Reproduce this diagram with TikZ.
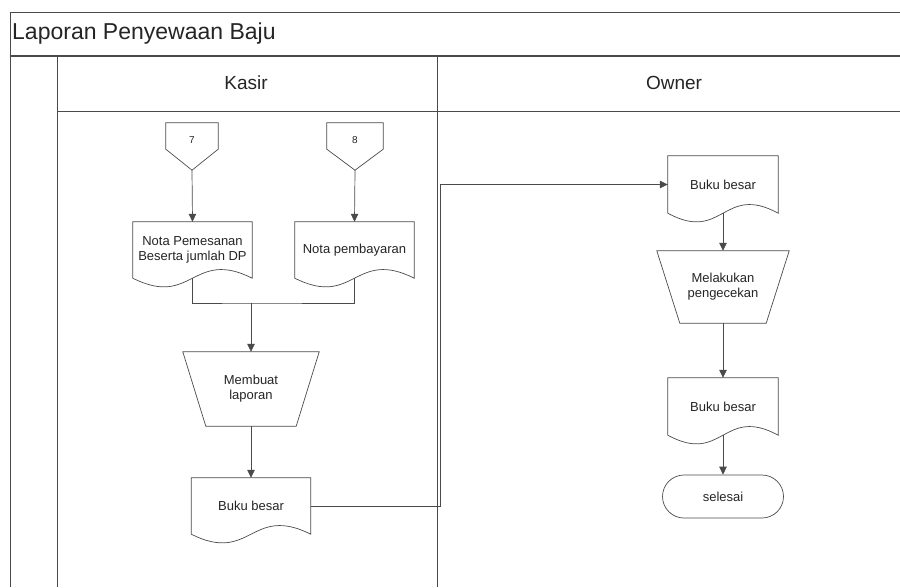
\documentclass[tikz,border=0pt]{standalone}
\usepackage{fontspec}
\setmainfont{Liberation Sans}
\usetikzlibrary{arrows.meta,calc}
\definecolor{ln}{HTML}{4A4A4A}
\definecolor{tx}{HTML}{252525}
\tikzset{
  x=1pt,y=1pt,
  frameline/.style={draw=ln,line width=0.8pt},
  shp/.style={draw=ln,line width=0.7pt},
  box/.style={draw=none,inner sep=0pt,align=center,font=\fontsize{13}{15}\selectfont,text=tx},
  flow/.style={draw=ln,line width=0.7pt,-{Triangle[length=8pt,width=7.5pt]}},
  plainflow/.style={draw=ln,line width=0.7pt},
}
\begin{document}
\begin{tikzpicture}
\useasboundingbox (0,0) rectangle (900,-587);
\fill[white] (0,0) rectangle (900,-587);
% frame
\draw[frameline] (900,-12) -- (10,-12) -- (10,-587);
\draw[draw=ln,line width=1.3pt] (10,-56) -- (900,-56);
\draw[frameline] (57,-56) -- (57,-587);
\draw[frameline] (437,-56) -- (437,-587);
\draw[frameline] (57,-111) -- (900,-111);
\node[anchor=west,font=\fontsize{23}{26}\selectfont,text=tx,inner sep=0pt] (title) at (12,-34) {Laporan Penyewaan Baju};
\node[font=\fontsize{19}{22}\selectfont,text=tx,inner sep=0pt] (kasir) at (246,-83) {Kasir};
\node[font=\fontsize{19}{22}\selectfont,text=tx,inner sep=0pt] (owner) at (674,-83) {Owner};

% off-page connectors
\node[box,font=\fontsize{10}{12}\selectfont,minimum width=52,minimum height=26] (c7) at (192,-136) {\raisebox{-7.5pt}[0pt][0pt]{7}};
\node[box,font=\fontsize{10}{12}\selectfont,minimum width=56,minimum height=26] (c8) at (355,-136) {\raisebox{-7.5pt}[0pt][0pt]{8}};
\foreach \n in {c7,c8}{
  \draw[shp] (\n.north west) -- (\n.north east) -- (\n.south east) -- ($(\n.south)+(0,-21)$) -- (\n.south west) -- cycle;
}

% documents
\node[box,minimum width=119,minimum height=56] (d1) at (192.5,-250) {Nota Pemesanan\\Beserta jumlah DP};
\node[box,minimum width=119,minimum height=56] (d2) at (354.5,-250) {Nota pembayaran};
\node[box,minimum width=119,minimum height=56] (d3) at (251,-506) {Buku besar};
\node[box,minimum width=110,minimum height=57] (o1) at (723,-184.5) {Buku besar};
\node[box,minimum width=110,minimum height=57] (o2) at (723,-406.5) {Buku besar};
\foreach \n in {d1,d2,d3,o1,o2}{
  \draw[shp] (\n.south west) -- (\n.north west) -- (\n.north east) -- (\n.south east)
    .. controls ($(\n.south)+(0,30)$) and ($(\n.south)+(0,-30)$) .. (\n.south west) -- cycle;
}

% manual operations
\node[box,minimum width=136,minimum height=74] (t1) at (251,-389) {Membuat\\laporan};
\node[box,minimum width=132,minimum height=72] (t2) at (723,-287) {Melakukan\\pengecekan};
\foreach \n in {t1,t2}{
  \draw[shp] (\n.north west) -- (\n.north east) -- ($(\n.south east)+(-23,0)$) -- ($(\n.south west)+(23,0)$) -- cycle;
}

% terminator
\node[box,draw=ln,line width=0.7pt,rounded corners=21.5pt,minimum width=121,minimum height=43] (end) at (723,-496.5) {selesai};

% connectors
\coordinate (m) at (251,-303);
\coordinate (lanex) at (440,0);
\draw[flow] ($(c7.south)+(0,-21)$) -- (d1.north);
\draw[flow] ($(c8.south)+(0,-21)$) -- (d2.north);
\draw[plainflow] (d1.south) |- (m) -| (d2.south);
\draw[flow] (m) -- (t1.north);
\draw[flow] (t1.south) -- (d3.north);
\draw[flow] (d3.east) -- (d3.east -| lanex) |- (o1.west);
\draw[flow] (o1.south) -- (t2.north);
\draw[flow] (t2.south) -- (o2.north);
\draw[flow] (o2.south) -- (end.north);
\end{tikzpicture}
\end{document}
